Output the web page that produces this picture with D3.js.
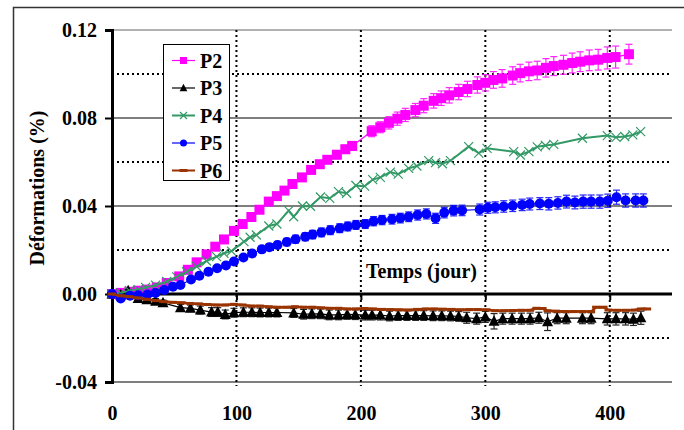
<!DOCTYPE html>
<html><head><meta charset="utf-8">
<script src="https://cdn.jsdelivr.net/npm/d3@7"></script>
<style>
html,body{margin:0;padding:0;background:#fff;}
svg text{font-family:"Liberation Serif","Times New Roman",serif;font-weight:bold;}
</style></head>
<body><svg id="c" width="684" height="430"></svg>
<script>
const xTicks = [0,100,200,300,400];
const yTicks = [-0.04,0,0.04,0.08,0.12];
const yDotted = [-0.02,0.02,0.06,0.10];
const seriesNames = ["P2","P3","P4","P5","P6"];

const p2Days = [0,7,14,21,28,36,44,54,61,68,76,83,90,98,105,112,118.5,126,132.5,138.6,145,152.6,160,167,173,180.7,187.5,193,208.7,215.6,222.5,229.3,235.7,243.8,250.5,258.5,264.5,271,278.6,285.6,293.6,300,306.5,313.5,322,328,335,341.7,348.7,355,362.8,369.8,376.2,383.5,390.7,398,404.7,415.4];
const p2Vals = [0,0.0005,0.001,0.0015,0.002,0.003,0.005,0.008,0.011,0.0144,0.018,0.0215,0.0248,0.0287,0.0318,0.035,0.0383,0.042,0.0445,0.047,0.05,0.053,0.0564,0.059,0.061,0.0633,0.0658,0.0673,0.074,0.0758,0.0778,0.0797,0.0814,0.0836,0.0856,0.0878,0.089,0.0903,0.0918,0.0932,0.095,0.096,0.0973,0.098,0.0993,0.1004,0.1012,0.1016,0.1028,0.1036,0.1042,0.105,0.1056,0.1062,0.1065,0.1073,0.1077,0.109];
const p2Err = [0,0,0,0,0,0.0005,0.0005,0.0005,0.0005,0.0005,0.0008,0.0008,0.0008,0.001,0.001,0.001,0.001,0.0012,0.0012,0.0012,0.0013,0.0013,0.0015,0.0015,0.0015,0.0018,0.0018,0.002,0.0025,0.0025,0.0028,0.003,0.003,0.003,0.0032,0.0033,0.0033,0.0035,0.0035,0.0035,0.0037,0.0037,0.0038,0.004,0.004,0.004,0.0042,0.0042,0.0042,0.0043,0.0043,0.0045,0.0045,0.0047,0.0047,0.005,0.005,0.0045];

const p3Days = [0,7,13,21,28,35,41,55,63,71,80,85,91,98,105.6,112.4,119,126,132.5,146,154,160.6,167.5,174.5,182,189,195.5,203.5,209,215.6,223,230,237,244,250.5,258,265,272,278.6,285,293,300,307,314,321.5,329,336,343,350,357.7,365,378,385,398,405,412.7,419,425];
const p3Vals = [0,-0.0005,0.0015,-0.002,-0.0026,-0.0033,-0.004,-0.0062,-0.0065,-0.0073,-0.0082,-0.0082,-0.0093,-0.0085,-0.0083,-0.0083,-0.0084,-0.0084,-0.0084,-0.0086,-0.0092,-0.009,-0.009,-0.0095,-0.0095,-0.0093,-0.0094,-0.0096,-0.0096,-0.0096,-0.01,-0.0098,-0.0098,-0.0098,-0.0098,-0.0099,-0.0099,-0.01,-0.0102,-0.0108,-0.0112,-0.0104,-0.0124,-0.0112,-0.0112,-0.0112,-0.0112,-0.0108,-0.0126,-0.011,-0.011,-0.011,-0.011,-0.0113,-0.0113,-0.0113,-0.0115,-0.0108];
const p3Err = [0,0,0.0005,0.001,0.001,0.0012,0.0012,0.0015,0.0015,0.0018,0.002,0.002,0.002,0.002,0.002,0.002,0.002,0.002,0.002,0.002,0.0022,0.0022,0.0022,0.0022,0.0022,0.0022,0.0022,0.0022,0.0022,0.0022,0.0022,0.0022,0.0022,0.0022,0.0022,0.0022,0.0022,0.0022,0.0022,0.0025,0.0025,0.0025,0.0035,0.0025,0.0025,0.0025,0.0025,0.0025,0.004,0.0025,0.0025,0.0025,0.0025,0.0028,0.0028,0.0028,0.0028,0.003];

const p4Days = [0,7,14,21,27,35,44,52,60,68,76,84,90,96,106,111,116,126,132.5,142,146,153,159.5,167.5,175,182,188.5,196,203,209.5,215.6,223.6,230,238.4,245,254.5,260,265.5,272,286.6,294.7,301.4,322.8,328.2,335,341.7,348.3,355,378,398,405,412,418.5,424.8];
const p4Vals = [0,0.0005,0.0015,0.002,0.003,0.004,0.0057,0.0078,0.0101,0.0125,0.015,0.017,0.0185,0.0195,0.0238,0.0258,0.0268,0.0309,0.0318,0.0379,0.0351,0.04,0.0399,0.0441,0.0435,0.0465,0.0458,0.0493,0.049,0.052,0.053,0.0554,0.0545,0.0571,0.0582,0.0606,0.0597,0.0592,0.0606,0.067,0.064,0.0662,0.0647,0.0632,0.0647,0.0669,0.0675,0.068,0.0708,0.072,0.0712,0.0716,0.0723,0.0738];

const p5Days = [0,7,14.5,21,28.5,35,42,49,55,63.5,70.2,77.5,84.5,91.6,98,105.6,112.6,120.4,126.5,133,140.5,147.5,155.3,161.2,168.3,175.4,183,189.4,196,203.5,210.2,217,225,231.7,238.4,245.6,252.6,260,267,274.5,281.3,295.5,302,308,314.8,322,329.6,335.7,343.8,351,358.3,365.2,372,378.6,385,392,398.4,405.4,412.7,420.8,427];
const p5Vals = [0,-0.002,-0.0008,-0.0006,-0.0002,0.0005,0.0018,0.0033,0.0041,0.0066,0.0083,0.0101,0.0117,0.013,0.0148,0.0166,0.0184,0.0203,0.0213,0.0223,0.0236,0.0249,0.026,0.027,0.028,0.029,0.0299,0.0307,0.0314,0.0318,0.0331,0.0336,0.034,0.0345,0.0351,0.0359,0.0364,0.0344,0.037,0.0379,0.038,0.0384,0.0392,0.0394,0.0398,0.0401,0.0405,0.0409,0.0411,0.041,0.0414,0.042,0.0416,0.042,0.042,0.042,0.0424,0.044,0.0425,0.0425,0.0425];
const p5Err = [0,0,0,0,0,0,0,0,0,0,0.0008,0.0008,0.001,0.001,0.0012,0.0012,0.0014,0.0015,0.0015,0.0016,0.0017,0.0018,0.0018,0.0019,0.002,0.002,0.002,0.002,0.002,0.002,0.0021,0.0021,0.0022,0.0022,0.0022,0.0023,0.0023,0.0023,0.0024,0.0024,0.0024,0.0025,0.0025,0.0025,0.0026,0.0026,0.0026,0.0027,0.0027,0.0028,0.0028,0.0029,0.0029,0.003,0.003,0.003,0.003,0.0032,0.003,0.003,0.003];

const p6Days = [0,7,14,21,28,35,42,49,56,63,70,77,84,91,98,105,112,119,126,133,140,147,154,161,168,175,182,189,196,203,210,217,224,231,238,245,252,259,266,273,280,287,294,301,308,315,322,329,336,341,346,350,357,364,371,378,385,389,395,399,406,413,420,425,430];
const p6Vals = [0,-0.0008,-0.0012,-0.0018,-0.0024,-0.003,-0.0035,-0.0038,-0.004,-0.0043,-0.0045,-0.0048,-0.005,-0.005,-0.0047,-0.005,-0.0055,-0.0055,-0.0058,-0.006,-0.006,-0.0058,-0.006,-0.006,-0.0063,-0.0065,-0.0065,-0.0068,-0.0068,-0.0066,-0.0068,-0.007,-0.0071,-0.0072,-0.0073,-0.007,-0.0068,-0.0068,-0.0069,-0.007,-0.0072,-0.0071,-0.0071,-0.0072,-0.0076,-0.0076,-0.0075,-0.0074,-0.0074,-0.0065,-0.0066,-0.0076,-0.0078,-0.008,-0.008,-0.008,-0.008,-0.006,-0.006,-0.0073,-0.0074,-0.0074,-0.0073,-0.0068,-0.0068];

const colors = {P2:"#ff00ff",P3:"#000000",P4:"#339966",P5:"#0000ff",P6:"#993300"};

const svg = d3.select("#c");
const x = d3.scaleLinear().domain([0,450]).range([112,672]);
const y = d3.scaleLinear().domain([-0.04,0.12]).range([382,30]);

// outer frame
svg.append("path").attr("d","M13.5,440 L13.5,7.5 L684,7.5").attr("fill","none").attr("stroke","#333").attr("stroke-width",1.5);

// grid: solid horizontal at major ticks
const grid = svg.append("g");
grid.selectAll("line.hs").data(yTicks.filter(v=>v!==0)).join("line")
  .attr("x1",x(0)).attr("x2",x(450)).attr("y1",d=>y(d)).attr("y2",d=>y(d))
  .attr("stroke",d=>d===0.12?"#666":"#000").attr("stroke-width",1.2);
grid.selectAll("line.hd").data(yDotted).join("line")
  .attr("x1",x(0)).attr("x2",x(450)).attr("y1",d=>y(d)).attr("y2",d=>y(d))
  .attr("stroke","#000").attr("stroke-width",2).attr("stroke-dasharray","2,3");
grid.selectAll("line.vd").data(xTicks.filter(v=>v>0)).join("line")
  .attr("x1",d=>x(d)).attr("x2",d=>x(d)).attr("y1",y(0.12)).attr("y2",y(-0.04)+4)
  .attr("stroke","#000").attr("stroke-width",2).attr("stroke-dasharray","2,3");

// zero axis (thick) with ticks
const xAxis = svg.append("g").attr("transform",`translate(0,${y(0)})`)
  .call(d3.axisBottom(x).tickValues(xTicks).tickSize(6).tickFormat(""));
xAxis.select(".domain").remove();
xAxis.selectAll(".tick line").attr("stroke","#000").attr("stroke-width",2);
svg.append("line").attr("x1",x(0)).attr("x2",x(450)).attr("y1",y(0)).attr("y2",y(0))
  .attr("stroke","#000").attr("stroke-width",3);

// x tick labels at bottom
const xLab = svg.append("g").attr("transform",`translate(0,${y(-0.04)})`)
  .call(d3.axisBottom(x).tickValues(xTicks).tickSize(0).tickPadding(24).tickFormat(d=>String(d)));
xLab.select(".domain").remove();
xLab.selectAll("text").attr("font-size",20).attr("fill","#000")
  .style("font-family",'"Liberation Serif",serif').style("font-weight","bold");

// y axis
const yAxis = svg.append("g").attr("transform",`translate(${x(0)},0)`)
  .call(d3.axisLeft(y).tickValues(yTicks).tickSize(7).tickPadding(8).tickFormat(d=>d.toFixed(2)));
yAxis.select(".domain").attr("stroke","#000").attr("stroke-width",3);
yAxis.selectAll(".tick line").attr("stroke","#000").attr("stroke-width",2);
yAxis.selectAll("text").attr("font-size",20).attr("fill","#000").attr("dy","0.34em")
  .style("font-family",'"Liberation Serif",serif').style("font-weight","bold");

// axis titles
svg.append("text").attr("x",366).attr("y",278).attr("font-size",20).text("Temps (jour)");
svg.append("text").attr("transform","translate(44,188) rotate(-90)").attr("text-anchor","middle")
  .attr("font-size",20).text("Déformations (%)");

// helpers
function zipS(days, vals, errs){ return days.map((d,i)=>({d, v:vals[i], e: errs? errs[i]:0})); }
const line = d3.line().x(p=>x(p.d)).y(p=>y(p.v));

function drawErr(g, data, color){
  const eb = g.append("g").attr("stroke",color).attr("stroke-width",1.2).attr("opacity",0.85);
  data.filter(p=>p.e>0).forEach(p=>{
    eb.append("line").attr("x1",x(p.d)).attr("x2",x(p.d)).attr("y1",y(p.v+p.e)).attr("y2",y(p.v-p.e));
    eb.append("line").attr("x1",x(p.d)-3.5).attr("x2",x(p.d)+3.5).attr("y1",y(p.v+p.e)).attr("y2",y(p.v+p.e));
    eb.append("line").attr("x1",x(p.d)-3.5).attr("x2",x(p.d)+3.5).attr("y1",y(p.v-p.e)).attr("y2",y(p.v-p.e));
  });
}
function marker(g, type, cx, cy, color, s){
  if(type==="square") g.append("rect").attr("x",cx-s/2).attr("y",cy-s/2).attr("width",s).attr("height",s).attr("fill",color);
  else if(type==="tri") g.append("path").attr("d",`M${cx},${cy-s*0.6}L${cx+s*0.55},${cy+s*0.45}L${cx-s*0.55},${cy+s*0.45}Z`).attr("fill",color);
  else if(type==="x") g.append("path").attr("d",`M${cx-s/2},${cy-s/2}L${cx+s/2},${cy+s/2}M${cx-s/2},${cy+s/2}L${cx+s/2},${cy-s/2}`).attr("stroke",color).attr("stroke-width",1.2).attr("fill","none");
  else if(type==="circle") g.append("circle").attr("cx",cx).attr("cy",cy).attr("r",s/2).attr("fill",color);
  else if(type==="dash") g.append("rect").attr("x",cx-4).attr("y",cy-1.5).attr("width",8).attr("height",3).attr("fill",color);
}

const series = [
  {name:"P2", data:zipS(p2Days,p2Vals,p2Err), type:"square", size:10, lw:1.2},
  {name:"P3", data:zipS(p3Days,p3Vals,p3Err), type:"tri", size:10, lw:1.2},
  {name:"P4", data:zipS(p4Days,p4Vals,null), type:"x", size:9, lw:2},
  {name:"P5", data:zipS(p5Days,p5Vals,p5Err), type:"circle", size:10, lw:1.2},
  {name:"P6", data:zipS(p6Days,p6Vals,null), type:"dash", size:8, lw:2.5}
];

series.forEach(s=>{
  const g = svg.append("g");
  const c = colors[s.name];
  drawErr(g, s.data, c);
  g.append("path").datum(s.data).attr("d",line).attr("fill","none").attr("stroke",c).attr("stroke-width",s.lw);
  s.data.forEach(p=>marker(g, s.type, x(p.d), y(p.v), c, s.size));
});

// legend
const lg = svg.append("g");
lg.append("rect").attr("x",163.5).attr("y",44.5).attr("width",66).attr("height",136)
  .attr("fill","#fff").attr("stroke","#000").attr("stroke-width",1);
seriesNames.forEach((n,i)=>{
  const cy = 60.5 + i*27.5;
  const s = series[i];
  lg.append("line").attr("x1",172).attr("x2",195).attr("y1",cy).attr("y2",cy).attr("stroke",colors[n]).attr("stroke-width",Math.min(s.lw,2));
  marker(lg, s.type, 183.5, cy, colors[n], s.type==="dash"?8:7);
  lg.append("text").attr("x",200).attr("y",cy).attr("dy","0.35em").attr("font-size",20).text(n);
});
</script></body></html>
